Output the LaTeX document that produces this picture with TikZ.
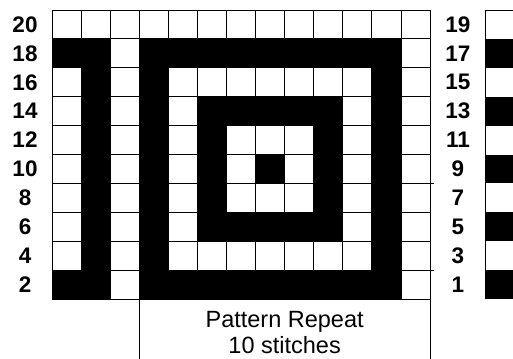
\documentclass[tikz,border=0pt]{standalone}
\usepackage{fontspec}
\setmainfont{Liberation Sans}
\usepackage{tikz}
\usetikzlibrary{positioning}

\begin{document}
\begin{tikzpicture}[x=29.08pt, y=-28.9pt,
  cell/.style   = {fill=black},
  gline/.style  = {line width=0.9pt},
  rowlbl/.style = {font=\fontsize{22.5}{22.5}\selectfont\bfseries, inner sep=0pt},
  note/.style   = {font=\fontsize{23.5}{28}\selectfont, inner sep=0pt}
]
  \clip (-1.788,-0.346) rectangle (15.853,12.042);

  %% black stitches of the chart
  \foreach \j/\cols in {1/{0,1,3,4,5,6,7,8,9,10,11},
                        2/{1,3,11},
                        3/{1,3,5,6,7,8,9,11},
                        4/{1,3,5,9,11},
                        5/{1,3,5,7,9,11},
                        6/{1,3,5,9,11},
                        7/{1,3,5,6,7,8,9,11},
                        8/{1,3,11},
                        9/{0,1,3,4,5,6,7,8,9,10,11}}
    \foreach \i in \cols
      \fill[cell] (\i,\j) rectangle ++(1,1);

  %% grid lines
  \foreach \i in {0,...,13}
    \draw[gline] (\i,0) -- (\i,10);
  \foreach \j in {0,...,10}
    \draw[gline] (0,\j) -- (13,\j);
  \draw[gline] (13,6) -- (13.12,6);
  \draw[gline] (13,9) -- (13.12,9);

  %% row numbers
  \foreach \j in {0,...,9} {
    \pgfmathtruncatemacro\lft{20-2*\j}
    \pgfmathtruncatemacro\rgt{19-2*\j}
    \node[rowlbl] (even\lft) at (-0.928,\j+0.5) {\lft};
    \node[rowlbl] (odd\rgt)  at (13.96,\j+0.5)  {\rgt};
  }

  %% start of the next repeat
  \foreach \j in {1,3,...,9}
    \fill[cell] (14.914,\j) rectangle (16,\j+1);
  \draw[gline] (16,0) -- (14.914,0) -- (14.914,10);

  %% pattern repeat bracket
  \draw[gline] (3,10) -- (3,12.2);
  \draw[gline] (13,10) -- (13,12.2);
  \node[note, anchor=base] (rep) at (8,10.97) {Pattern Repeat};
  \node[note, anchor=base] (sts) at (8,11.9) {10 stitches};
\end{tikzpicture}
\end{document}
